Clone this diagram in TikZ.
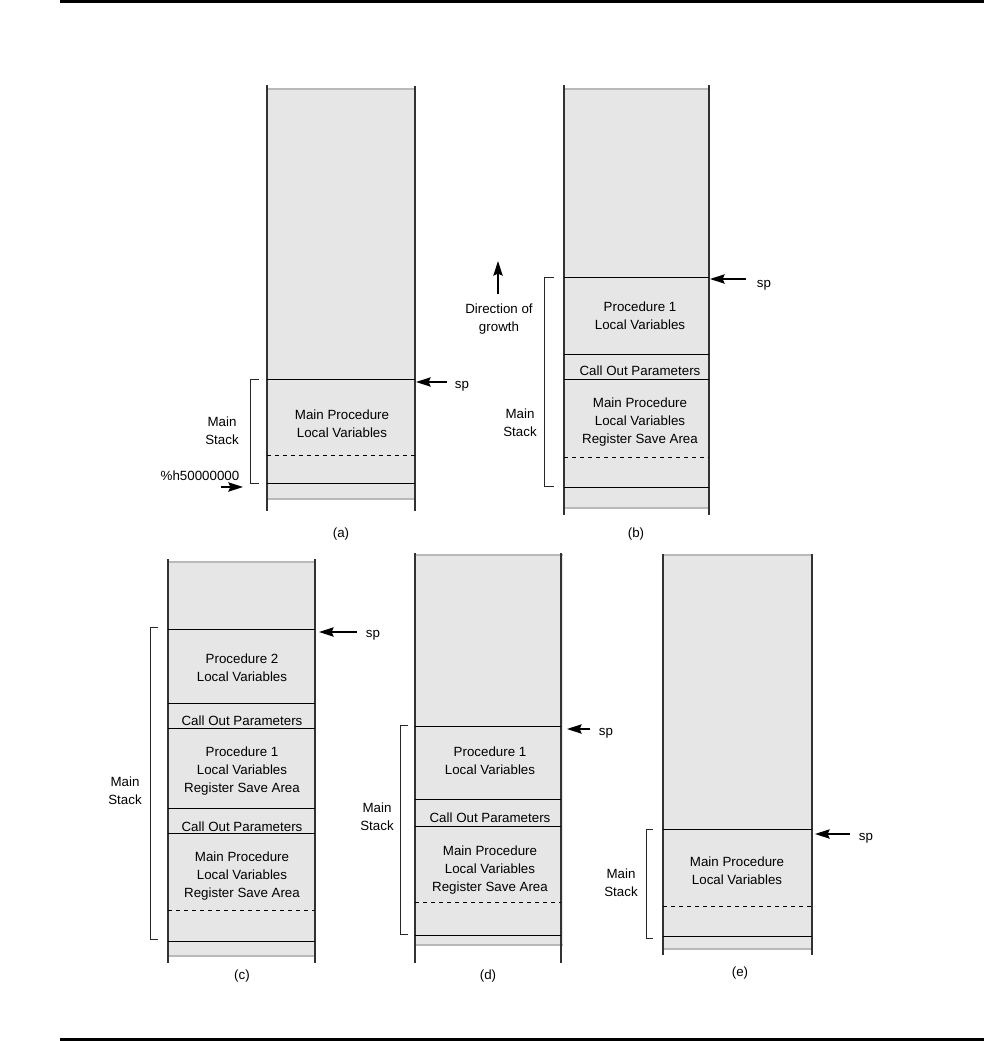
\documentclass[tikz,border=0pt]{standalone}
\usepackage{fontspec}
\setmainfont{Liberation Sans}
\usetikzlibrary{arrows.meta}
\definecolor{cellgray}{RGB}{230,230,230}
\definecolor{edgegray}{RGB}{185,185,185}
\definecolor{wallcol}{RGB}{50,50,50}
\begin{document}
\begin{tikzpicture}[x=0.75pt,y=-0.75pt,
  wall/.style={draw=wallcol,line width=1.1pt},
  sepline/.style={draw=black,line width=0.75pt},
  dsepline/.style={draw=black,line width=0.75pt,dash pattern=on 3pt off 3pt},
  cell/.style={fill=cellgray},
  celledge/.style={draw=edgegray,line width=1pt},
  lbl/.style={font=\fontsize{10}{13.5}\selectfont,align=center,inner sep=0pt},
  brk/.style={draw=black!85,line width=0.75pt},
  ptr/.style={draw=black,line width=0.9pt,-{Stealth[length=11pt,width=7pt,inset=1.5pt]}},
  rule/.style={draw=black,line width=1.6pt}]
\useasboundingbox (0,0) rectangle (984,1041);
% rules
\draw[rule] (60,1.5) -- (984,1.5);
\draw[rule] (60,1039.5) -- (984,1039.5);

% ---------------- (a)
\fill[cell] (267,89) rectangle (415,499);
\draw[celledge] (267,89) -- (415,89);
\draw[celledge] (267,499) -- (415,499);
\draw[wall] (267,85) -- (267,511);
\draw[wall] (415,86) -- (415,511);
\draw[sepline] (267,379) -- (415,379);
\draw[dsepline] (267,455) -- (415,455);
\draw[sepline] (267,483) -- (415,483);
\node[lbl] (amain) at (342,424) {Main Procedure\\Local Variables};
\draw[brk] (259,379) -- (250,379) -- (250,483) -- (259,483);
\node[lbl] (astack) at (222,431) {Main\\Stack};
\node[lbl] (aaddr) at (200,476) {\%h50000000};
\coordinate (aaddrs) at (221,487);
\coordinate (aaddre) at (243,487);
\draw[ptr] (aaddrs) -- (aaddre);
\node[lbl] (asp) at (462,386) {sp};
\coordinate (asps) at (447,382);
\coordinate (aspe) at (416,382);
\draw[ptr] (asps) -- (aspe);
\node[lbl] (acap) at (341,534) {(a)};

% ---------------- (b)
\fill[cell] (564,89) rectangle (709,508);
\draw[celledge] (564,89) -- (709,89);
\draw[celledge] (564,508) -- (709,508);
\draw[wall] (564,85) -- (564,515);
\draw[wall] (709,85) -- (709,515);
\draw[sepline] (564,277) -- (709,277);
\draw[sepline] (564,354) -- (709,354);
\draw[sepline] (564,379) -- (709,379);
\draw[dsepline] (564,457) -- (709,457);
\draw[sepline] (564,487) -- (709,487);
\node[lbl] (bp1) at (640,316) {Procedure 1\\Local Variables};
\node[lbl] (bcall) at (640,371) {Call Out Parameters};
\node[lbl] (bmain) at (640,422) {Main Procedure\\Local Variables\\Register Save Area};
\draw[brk] (554,277) -- (544,277) -- (544,486) -- (554,486);
\node[lbl] (bstack) at (520,423) {Main\\Stack};
\coordinate (bgrs) at (498,294);
\coordinate (bgre) at (498,261);
\draw[ptr] (bgrs) -- (bgre);
\node[lbl] (bgrow) at (499,319) {Direction of\\growth};
\node[lbl] (bsp) at (764,285) {sp};
\coordinate (bsps) at (746,279);
\coordinate (bspe) at (710,279);
\draw[ptr] (bsps) -- (bspe);
\node[lbl] (bcap) at (636,534) {(b)};

% ---------------- (c)
\fill[cell] (168,562) rectangle (315,956);
\draw[celledge] (168,562) -- (315,562);
\draw[celledge] (168,956) -- (315,956);
\draw[wall] (168,559) -- (168,963);
\draw[wall] (315,559) -- (315,963);
\draw[sepline] (168,629) -- (315,629);
\draw[sepline] (168,703) -- (315,703);
\draw[sepline] (168,728) -- (315,728);
\draw[sepline] (168,808) -- (315,808);
\draw[sepline] (168,833) -- (315,833);
\draw[dsepline] (168,910) -- (315,910);
\draw[sepline] (168,941) -- (315,941);
\node[lbl] (cp2) at (242,668) {Procedure 2\\Local Variables};
\node[lbl] (ccall1) at (242,721) {Call Out Parameters};
\node[lbl] (cp1) at (242,771) {Procedure 1\\Local Variables\\Register Save Area};
\node[lbl] (ccall2) at (242,827) {Call Out Parameters};
\node[lbl] (cmain) at (242,876) {Main Procedure\\Local Variables\\Register Save Area};
\draw[brk] (158,627) -- (150,627) -- (150,939) -- (158,939);
\node[lbl] (cstack) at (125,791) {Main\\Stack};
\node[lbl] (csp) at (373,635) {sp};
\coordinate (csps) at (357,632);
\coordinate (cspe) at (319,632);
\draw[ptr] (csps) -- (cspe);
\node[lbl] (ccap) at (242,976) {(c)};

% ---------------- (d)
\fill[cell] (415,555) rectangle (563,945);
\draw[celledge] (415,555) -- (563,555);
\draw[celledge] (415,945) -- (563,945);
\draw[wall] (415,553) -- (415,963);
\draw[wall] (561,553) -- (561,963);
\draw[sepline] (415,726) -- (561,726);
\draw[sepline] (415,799) -- (561,799);
\draw[sepline] (415,826) -- (561,826);
\draw[dsepline] (415,902) -- (561,902);
\draw[sepline] (415,935) -- (561,935);
\node[lbl] (dp1) at (490,761) {Procedure 1\\Local Variables};
\node[lbl] (dcall) at (490,818) {Call Out Parameters};
\node[lbl] (dmain) at (490,870) {Main Procedure\\Local Variables\\Register Save Area};
\draw[brk] (408,725) -- (400,725) -- (400,934) -- (408,934);
\node[lbl] (dstack) at (377,817) {Main\\Stack};
\node[lbl] (dsp) at (606,733) {sp};
\coordinate (dsps) at (590,729);
\coordinate (dspe) at (567,729);
\draw[ptr] (dsps) -- (dspe);
\node[lbl] (dcap) at (488,976) {(d)};

% ---------------- (e)
\fill[cell] (663,555) rectangle (812,949);
\draw[celledge] (663,555) -- (812,555);
\draw[celledge] (663,949) -- (812,949);
\draw[wall] (663,554) -- (663,955);
\draw[wall] (812,554) -- (812,955);
\draw[sepline] (663,829) -- (812,829);
\draw[dsepline] (663,906) -- (812,906);
\draw[sepline] (663,936) -- (812,936);
\node[lbl] (emain) at (737,871) {Main Procedure\\Local Variables};
\draw[brk] (653,829) -- (646,829) -- (646,938) -- (653,938);
\node[lbl] (estack) at (621,883) {Main\\Stack};
\node[lbl] (esp) at (866,838) {sp};
\coordinate (esps) at (850,834);
\coordinate (espe) at (815,834);
\draw[ptr] (esps) -- (espe);
\node[lbl] (ecap) at (740,973) {(e)};
\end{tikzpicture}
\end{document}
